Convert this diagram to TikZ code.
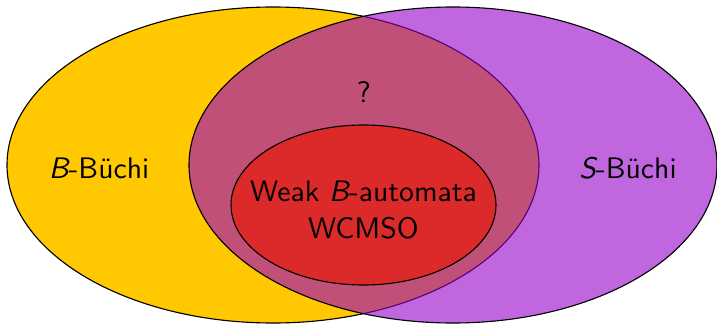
\documentclass[tikz,border=0pt]{standalone}
\usepackage{tikz}
\definecolor{bbuchi}{RGB}{255,200,0}
\definecolor{sbuchi}{RGB}{150,0,200}
\definecolor{weakb}{RGB}{220,42,42}
\tikzset{
  setshape/.style={draw=black, line width=0.4pt},
  setlabel/.style={font=\sffamily\fontsize{10.6}{13}\selectfont, text=black, inner sep=1pt},
}
\begin{document}
\begin{tikzpicture}[x=0.357pt, y=-0.357pt]
  \useasboundingbox (0,0) rectangle (717,325);
  % B-Buchi languages
  \draw[setshape, fill=bbuchi] (273,165) ellipse [x radius=266, y radius=158];
  % S-Buchi languages, translucent so the overlap shows
  \draw[setshape, fill=sbuchi, fill opacity=0.6] (453,165) ellipse [x radius=264, y radius=158];
  % weak B-automata inside the intersection
  \draw[setshape, fill=weakb] (363.5,205) ellipse [x radius=132.5, y radius=80];

  \node[setlabel] (bb) at (99,168) {{\itshape B}-Büchi};
  \node[setlabel] (sb) at (628,168) {{\itshape S}-Büchi};
  \node[setlabel] (q) at (364,92) {?};
  \node[setlabel, align=center] (wb) at (363.5,210) {Weak {\itshape B}-automata\\WCMSO};
\end{tikzpicture}
\end{document}
